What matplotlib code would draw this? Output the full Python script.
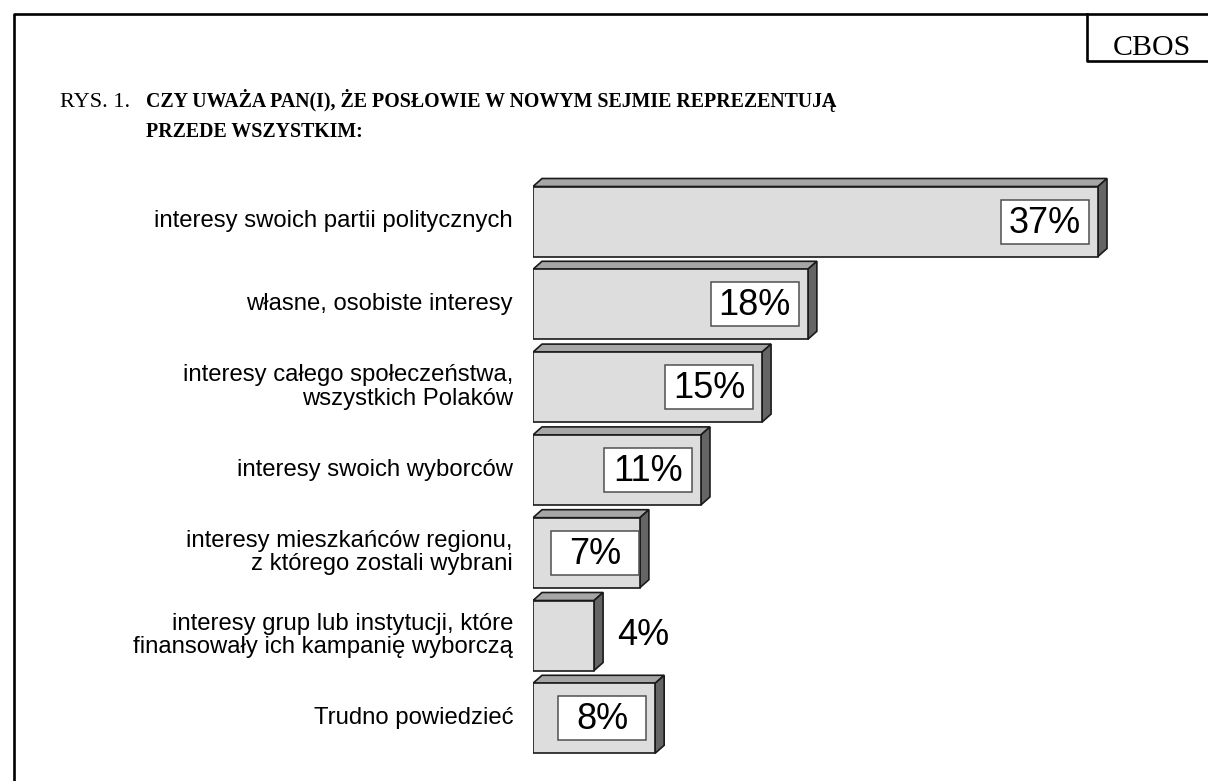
import matplotlib
matplotlib.use("Agg")
import matplotlib.pyplot as plt
from matplotlib.patches import Polygon, Rectangle
from matplotlib.lines import Line2D
import matplotlib.transforms as mtransforms

# ---------------- data ----------------
categories = [
    "interesy swoich partii politycznych",
    "własne, osobiste interesy",
    "interesy całego społeczeństwa,\nwszystkich Polaków",
    "interesy swoich wyborców",
    "interesy mieszkańców regionu,\nz którego zostali wybrani",
    "interesy grup lub instytucji, które\nfinansowały ich kampanię wyborczą",
    "Trudno powiedzieć",
]
values = [37, 18, 15, 11, 7, 4, 8]
value_labels = ["37%", "18%", "15%", "11%", "7%", "4%", "8%"]
title_prefix = "RYS. 1."
title_line1 = "CZY UWAŻA PAN(I), ŻE POSŁOWIE W NOWYM SEJMIE REPREZENTUJĄ"
title_line2 = "PRZEDE WSZYSTKIM:"
corner_label = "CBOS"

# ---------------- layout (pixels) ----------------
W, H, DPI = 1208, 781, 100
X0_PX = 533.0          # left edge of bars
PX_PER_PCT = 15.27
XMAX = 40.0
Y_TOP_PX, Y_BOT_PX = 170.0, 770.0
CENTER0_PX, PITCH_PX = 221.5, 82.8
BAR_H_PX = 70.0
DEPTH_X_PX, DEPTH_Y_PX = 9.0, 8.0

FRONT = "#dddddd"
TOP = "#a6a6a6"
SIDE = "#656565"
EDGE = "#1a1a1a"

SANS = ["Liberation Sans", "DejaVu Sans"]
SERIF = ["Liberation Serif", "DejaVu Serif"]

fig = plt.figure(figsize=(W / DPI, H / DPI), dpi=DPI)
fig.patch.set_facecolor("white")

# background axes in pixel coordinates for frame and title
bg = fig.add_axes([0, 0, 1, 1])
bg.set_xlim(0, W)
bg.set_ylim(H, 0)
bg.axis("off")

# outer frame
bg.add_line(Line2D([14, 14, W + 5], [H + 5, 14, 14], color="black", lw=1.9))
# CBOS box
bg.add_line(Line2D([1087, 1087, W + 5], [14, 61, 61], color="black", lw=1.9))
bg.text(1152, 55, corner_label, family=SERIF, fontsize=21.5, ha="center", va="baseline")

bg.text(60, 107, title_prefix, family=SERIF, fontsize=16, ha="left", va="baseline")
bg.text(146, 107, title_line1, family=SERIF, fontsize=14.3, fontweight="bold", ha="left", va="baseline")
bg.text(146, 137, title_line2, family=SERIF, fontsize=14.3, fontweight="bold", ha="left", va="baseline")

# bar axes
ax_w_px = XMAX * PX_PER_PCT
ax = fig.add_axes([X0_PX / W, (H - Y_BOT_PX) / H, ax_w_px / W, (Y_BOT_PX - Y_TOP_PX) / H])
n = len(values)
ylo = (n - 1) + (Y_BOT_PX - (CENTER0_PX + (n - 1) * PITCH_PX)) / PITCH_PX
yhi = -(CENTER0_PX - Y_TOP_PX) / PITCH_PX
ax.set_xlim(0, XMAX)
ax.set_ylim(ylo, yhi)
ax.axis("off")
ax.patch.set_alpha(0)

bh = BAR_H_PX / PITCH_PX
dx = DEPTH_X_PX / PX_PER_PCT
dy = DEPTH_Y_PX / PITCH_PX
ypos = list(range(n))

ax.barh(ypos, values, height=bh, left=0, color=FRONT, edgecolor=EDGE, linewidth=1.2, zorder=3)
for i, v in zip(ypos, values):
    yt = i - bh / 2
    yb = i + bh / 2
    top = Polygon([(0, yt), (v, yt), (v + dx, yt - dy), (dx, yt - dy)], closed=True,
                  facecolor=TOP, edgecolor=EDGE, linewidth=1.2, zorder=2, joinstyle="miter")
    side = Polygon([(v, yt), (v + dx, yt - dy), (v + dx, yb - dy), (v, yb)], closed=True,
                   facecolor=SIDE, edgecolor=EDGE, linewidth=1.2, zorder=2, joinstyle="miter")
    ax.add_patch(top)
    ax.add_patch(side)

# category labels
lab_tr = mtransforms.offset_copy(ax.transData, fig=fig, x=-20, y=0, units="dots")
for i, c in zip(ypos, categories):
    ax.text(0, i, c, transform=lab_tr, family=SANS, fontsize=17.2, ha="right", va="center",
            multialignment="right", linespacing=1.08)

# value labels
BOX_W_PX, BOX_H_PX = 88.0, 44.0
for i, v, lab in zip(ypos, values, value_labels):
    bar_px = v * PX_PER_PCT
    if bar_px < BOX_W_PX + 10:
        tr = mtransforms.offset_copy(ax.transData, fig=fig, x=23, y=0, units="dots")
        ax.text(v, i, lab, transform=tr, family=SANS, fontsize=26, ha="left", va="center", zorder=5)
        continue
    cx_px = bar_px - 53
    cx_px = max(cx_px, 18 + BOX_W_PX / 2)
    cx = cx_px / PX_PER_PCT
    bw = BOX_W_PX / PX_PER_PCT
    bhh = BOX_H_PX / PITCH_PX
    ax.add_patch(Rectangle((cx - bw / 2, i - bhh / 2), bw, bhh, facecolor="white",
                           edgecolor="#505050", linewidth=1.1, zorder=4))
    ax.text(cx, i + 0.02, lab, family=SANS, fontsize=26, ha="center", va="center", zorder=5)

fig.savefig("out.png", dpi=DPI, facecolor="white")
